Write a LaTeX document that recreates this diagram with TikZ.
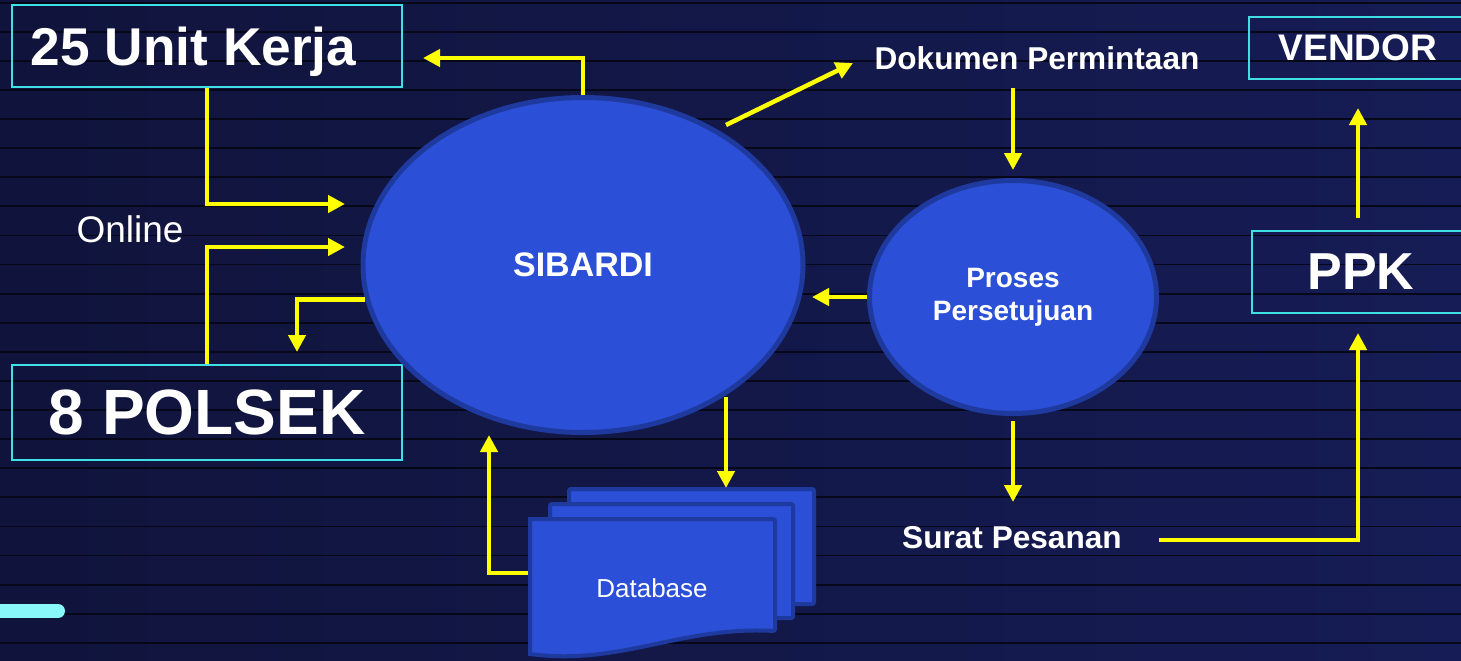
\documentclass[tikz,border=0pt]{standalone}
\usepackage{fontspec}
\setmainfont{Liberation Sans}
\usetikzlibrary{shapes.geometric,arrows.meta}
\definecolor{bgleft}{HTML}{10143C}
\definecolor{bgmid}{HTML}{1C2468}
\definecolor{bgright}{HTML}{161C55}
\definecolor{stripe}{HTML}{06081A}
\definecolor{boxcyan}{HTML}{3EE0E6}
\definecolor{pillcyan}{HTML}{88F8F8}
\definecolor{ellfill}{HTML}{2B4FD6}
\definecolor{ellborder}{HTML}{1F3A9E}
\definecolor{flowyellow}{HTML}{FFFF00}

\begin{document}
\begin{tikzpicture}[x=0.5pt, y=-0.5pt,
  box/.style = {draw=boxcyan, line width=1pt, text=white, inner sep=0pt, text depth=0pt},
  proc/.style = {ellipse, draw=ellborder, fill=ellfill, line width=2.5pt, text=white, inner sep=0pt, align=center},
  sheet/.style = {draw=ellborder, fill=ellfill, line width=2pt, rounded corners=1pt, inner sep=0pt},
  lbl/.style = {text=white, inner sep=0pt},
  flow/.style = {draw=flowyellow, line width=2.25pt, -{Triangle[length=8.5pt,width=8.5pt]}}]
  \useasboundingbox (0,0) rectangle (1461,660);
  \shade[left color=bgleft, middle color=bgmid, right color=bgright] (0,0) rectangle (1461,660);
  \foreach \k in {0,...,22}
    \draw[stripe, line width=0.9pt] (0,{2.6+29.1*\k}) -- (1461,{2.6+29.1*\k});
  \draw[pillcyan, line width=7pt, line cap=round] (-20,611) -- (58,611);

  \node[box, minimum width=195pt, minimum height=41pt, text width=176pt, align=flush left,
    font=\bfseries\fontsize{26.6}{30}\selectfont] (unit) at (207,46) {25 Unit Kerja};
  \node[box, minimum width=195pt, minimum height=47.5pt,
    font=\bfseries\fontsize{32}{36}\selectfont] (polsek) at (207,412.5) {8 POLSEK};
  \node[box, minimum width=109pt, minimum height=31pt,
    font=\bfseries\fontsize{18.5}{22}\selectfont] (vendor) at (1358,48) {VENDOR};
  \node[box, minimum width=109pt, minimum height=41pt,
    font=\bfseries\fontsize{26}{30}\selectfont] (ppk) at (1361,272) {PPK};

  \node[lbl, font=\fontsize{18.5}{22}\selectfont] (online) at (130,229) {Online};
  \node[proc, minimum width=220pt, minimum height=167.5pt,
    font=\bfseries\fontsize{17}{20}\selectfont] (sib) at (583,265) {SIBARDI};
  \node[proc, minimum width=143.5pt, minimum height=116.5pt,
    font=\bfseries\fontsize{14}{16.5}\selectfont] (pro) at (1013,297) {Proses\\Persetujuan};
  \node[lbl, font=\bfseries\fontsize{15.8}{19}\selectfont] (dok) at (1037,58) {Dokumen Permintaan};
  \node[lbl, font=\bfseries\fontsize{15.8}{19}\selectfont] (surat) at (1012,538) {Surat Pesanan};

  \node[sheet, minimum width=122.5pt, minimum height=57.5pt] (db3) at (691.5,546.5) {};
  \node[sheet, minimum width=121.5pt, minimum height=57pt] (db2) at (671.5,561) {};
  \draw[ellborder, fill=ellfill, line width=2pt, rounded corners=1pt]
    (530,519) -- (775,519) -- (775,631) [sharp corners] .. controls (680,626) and (620,666) .. (530,654) -- cycle;
  \node[lbl, font=\fontsize{13}{16}\selectfont] (db) at (652,588) {Database};

  \coordinate (t1) at (423,58);
  \coordinate (t2) at (345,204);
  \coordinate (t3) at (345,247);
  \coordinate (t4) at (297,352);
  \coordinate (c5) at (726,125);
  \coordinate (t5) at (853,63);
  \coordinate (c6) at (1013,88);
  \coordinate (t6) at (1013,170);
  \coordinate (t7) at (812,297);
  \coordinate (c8) at (1013,421);
  \coordinate (t8) at (1013,502);
  \coordinate (c9) at (1159,540);
  \coordinate (t9) at (1358,333);
  \coordinate (c10) at (1358,218);
  \coordinate (t10) at (1358,108);
  \coordinate (c11) at (726,397);
  \coordinate (t11) at (726,488);
  \coordinate (c12) at (528,573);
  \coordinate (t12) at (489,435);

  \draw[flow] (sib.north) |- (t1);
  \draw[flow] (unit.south) |- (t2);
  \draw[flow] (polsek.north) |- (t3);
  \draw[flow] (sib.189) -| (t4);
  \draw[flow] (c5) -- (t5);
  \draw[flow] (c6) -- (t6);
  \draw[flow] (pro.west) -- (t7);
  \draw[flow] (c8) -- (t8);
  \draw[flow] (c9) -| (t9);
  \draw[flow] (c10) -- (t10);
  \draw[flow] (c11) -- (t11);
  \draw[flow] (c12) -| (t12);
\end{tikzpicture}
\end{document}
